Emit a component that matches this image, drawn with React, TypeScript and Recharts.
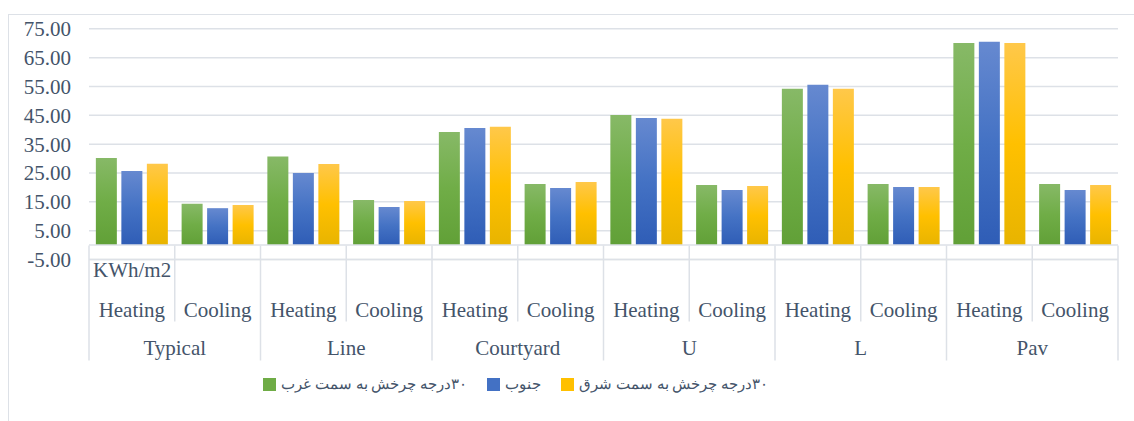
import { BarChart, Bar, XAxis, YAxis, CartesianGrid, ReferenceLine } from 'recharts';

const groups = ['Typical', 'Line', 'Courtyard', 'U', 'L', 'Pav'];
const loads = ['Heating', 'Cooling'];
const unitLabel = 'KWh/m2';
const yTicks = [-5, 5, 15, 25, 35, 45, 55, 65, 75];

// KWh/m2, order: Typical H, Typical C, Line H, Line C, ...
const west = [30.2, 14.3, 30.7, 15.6, 39.2, 21.2, 45.1, 20.8, 54.2, 21.2, 70.1, 21.2];
const south = [25.7, 12.8, 25.0, 13.2, 40.6, 19.8, 44.1, 19.1, 55.6, 20.1, 70.5, 19.1];
const east = [28.2, 13.9, 28.1, 15.3, 41.0, 21.9, 43.8, 20.5, 54.2, 20.1, 70.1, 20.8];

const westName = '۳۰درجه چرخش به سمت غرب';
const southName = 'جنوب';
const eastName = '۳۰درجه چرخش به سمت شرق';

const data = groups.flatMap((group, gi) =>
  loads.map((load, li) => ({
    group,
    load,
    west: west[gi * 2 + li],
    south: south[gi * 2 + li],
    east: east[gi * 2 + li],
  }))
);

const TEXT = '#44546a';
const LINE = '#dde1e7';
const FONT = '"Liberation Serif", "Times New Roman", "DejaVu Serif", serif';
const FS = 21;

const PLOT_LEFT = 89;
const PLOT_RIGHT = 1118;
const CELL = (PLOT_RIGHT - PLOT_LEFT) / data.length;

const legendItems = [
  { name: westName, color: '#6fac46' },
  { name: southName, color: '#4371c4' },
  { name: eastName, color: '#ffc000' },
];

function CategoryTick(props: any) {
  const { x, y, index } = props;
  const row = data[index];
  const half = CELL / 2;
  const groupStart = index % 2 === 0;
  const last = index === data.length - 1;
  return (
    <g>
      <line
        x1={x - half}
        x2={x - half}
        y1={y - 14}
        y2={groupStart ? y + 101 : y + 62}
        stroke={LINE}
        strokeWidth={1.5}
      />
      {last && (
        <line x1={x + half} x2={x + half} y1={y - 14} y2={y + 101} stroke={LINE} strokeWidth={1.5} />
      )}
      {index === 0 && (
        <text x={x - half + 4} y={y + 17.5} fill={TEXT} fontSize={FS} fontFamily={FONT}>
          {unitLabel}
        </text>
      )}
      <text x={x} y={y + 57} textAnchor="middle" fill={TEXT} fontSize={FS} fontFamily={FONT}>
        {row.load}
      </text>
      {groupStart && (
        <text x={x + half} y={y + 95} textAnchor="middle" fill={TEXT} fontSize={FS} fontFamily={FONT}>
          {row.group}
        </text>
      )}
    </g>
  );
}

export default function App() {
  return (
    <div
      style={{
        position: 'absolute',
        left: 0,
        top: 0,
        width: 1134,
        height: 421,
        overflow: 'hidden',
        background: '#fff',
      }}
    >
      <div
        style={{
          position: 'absolute',
          left: 8,
          top: 14,
          width: 1200,
          height: 500,
          borderLeft: `1.5px solid ${LINE}`,
          borderTop: `1.5px solid ${LINE}`,
        }}
      />
      <BarChart
        width={1134}
        height={421}
        data={data}
        margin={{ top: 28.8, right: 1134 - PLOT_RIGHT, bottom: 0, left: 0 }}
        barCategoryGap="8%"
        barGap={4.5}
      >
        <defs>
          <linearGradient id="gWest" x1="0" y1="0" x2="0" y2="1">
            <stop offset="0%" stopColor="#87b967" />
            <stop offset="50%" stopColor="#70ad47" />
            <stop offset="100%" stopColor="#61a037" />
          </linearGradient>
          <linearGradient id="gSouth" x1="0" y1="0" x2="0" y2="1">
            <stop offset="0%" stopColor="#6689d0" />
            <stop offset="50%" stopColor="#4472c4" />
            <stop offset="100%" stopColor="#2f5db6" />
          </linearGradient>
          <linearGradient id="gEast" x1="0" y1="0" x2="0" y2="1">
            <stop offset="0%" stopColor="#ffc84a" />
            <stop offset="50%" stopColor="#ffc000" />
            <stop offset="100%" stopColor="#e8b400" />
          </linearGradient>
        </defs>
        <CartesianGrid vertical={false} stroke={LINE} strokeWidth={1.5} />
        <YAxis
          type="number"
          domain={[-5, 75]}
          ticks={yTicks}
          interval={0}
          width={PLOT_LEFT}
          axisLine={false}
          tickLine={false}
          tickSize={0}
          tickMargin={18}
          tickFormatter={(v: number) => v.toFixed(2)}
          tick={{ fill: TEXT, fontSize: FS, fontFamily: FONT }}
        />
        <XAxis
          dataKey="load"
          interval={0}
          tickLine={false}
          tickSize={0}
          tickMargin={0}
          axisLine={{ stroke: LINE, strokeWidth: 1.5 }}
          tick={<CategoryTick />}
          height={161.5}
        />
        <ReferenceLine y={0} stroke={LINE} strokeWidth={1.5} />
        <Bar dataKey="west" name={westName} fill="url(#gWest)" isAnimationActive={false} />
        <Bar dataKey="south" name={southName} fill="url(#gSouth)" isAnimationActive={false} />
        <Bar dataKey="east" name={eastName} fill="url(#gEast)" isAnimationActive={false} />
      </BarChart>
      <div
        style={{
          position: 'absolute',
          left: 263,
          top: 375,
          display: 'flex',
          alignItems: 'center',
          gap: 20,
        }}
      >
        {legendItems.map((item) => (
          <div key={item.name} style={{ display: 'flex', alignItems: 'center', gap: 5 }}>
            <span style={{ width: 13, height: 13, background: item.color, display: 'inline-block' }} />
            <span
              dir="rtl"
              style={{ unicodeBidi: 'isolate', color: TEXT, fontSize: 15, fontFamily: FONT, whiteSpace: 'nowrap' }}
            >
              {item.name}
            </span>
          </div>
        ))}
      </div>
    </div>
  );
}
